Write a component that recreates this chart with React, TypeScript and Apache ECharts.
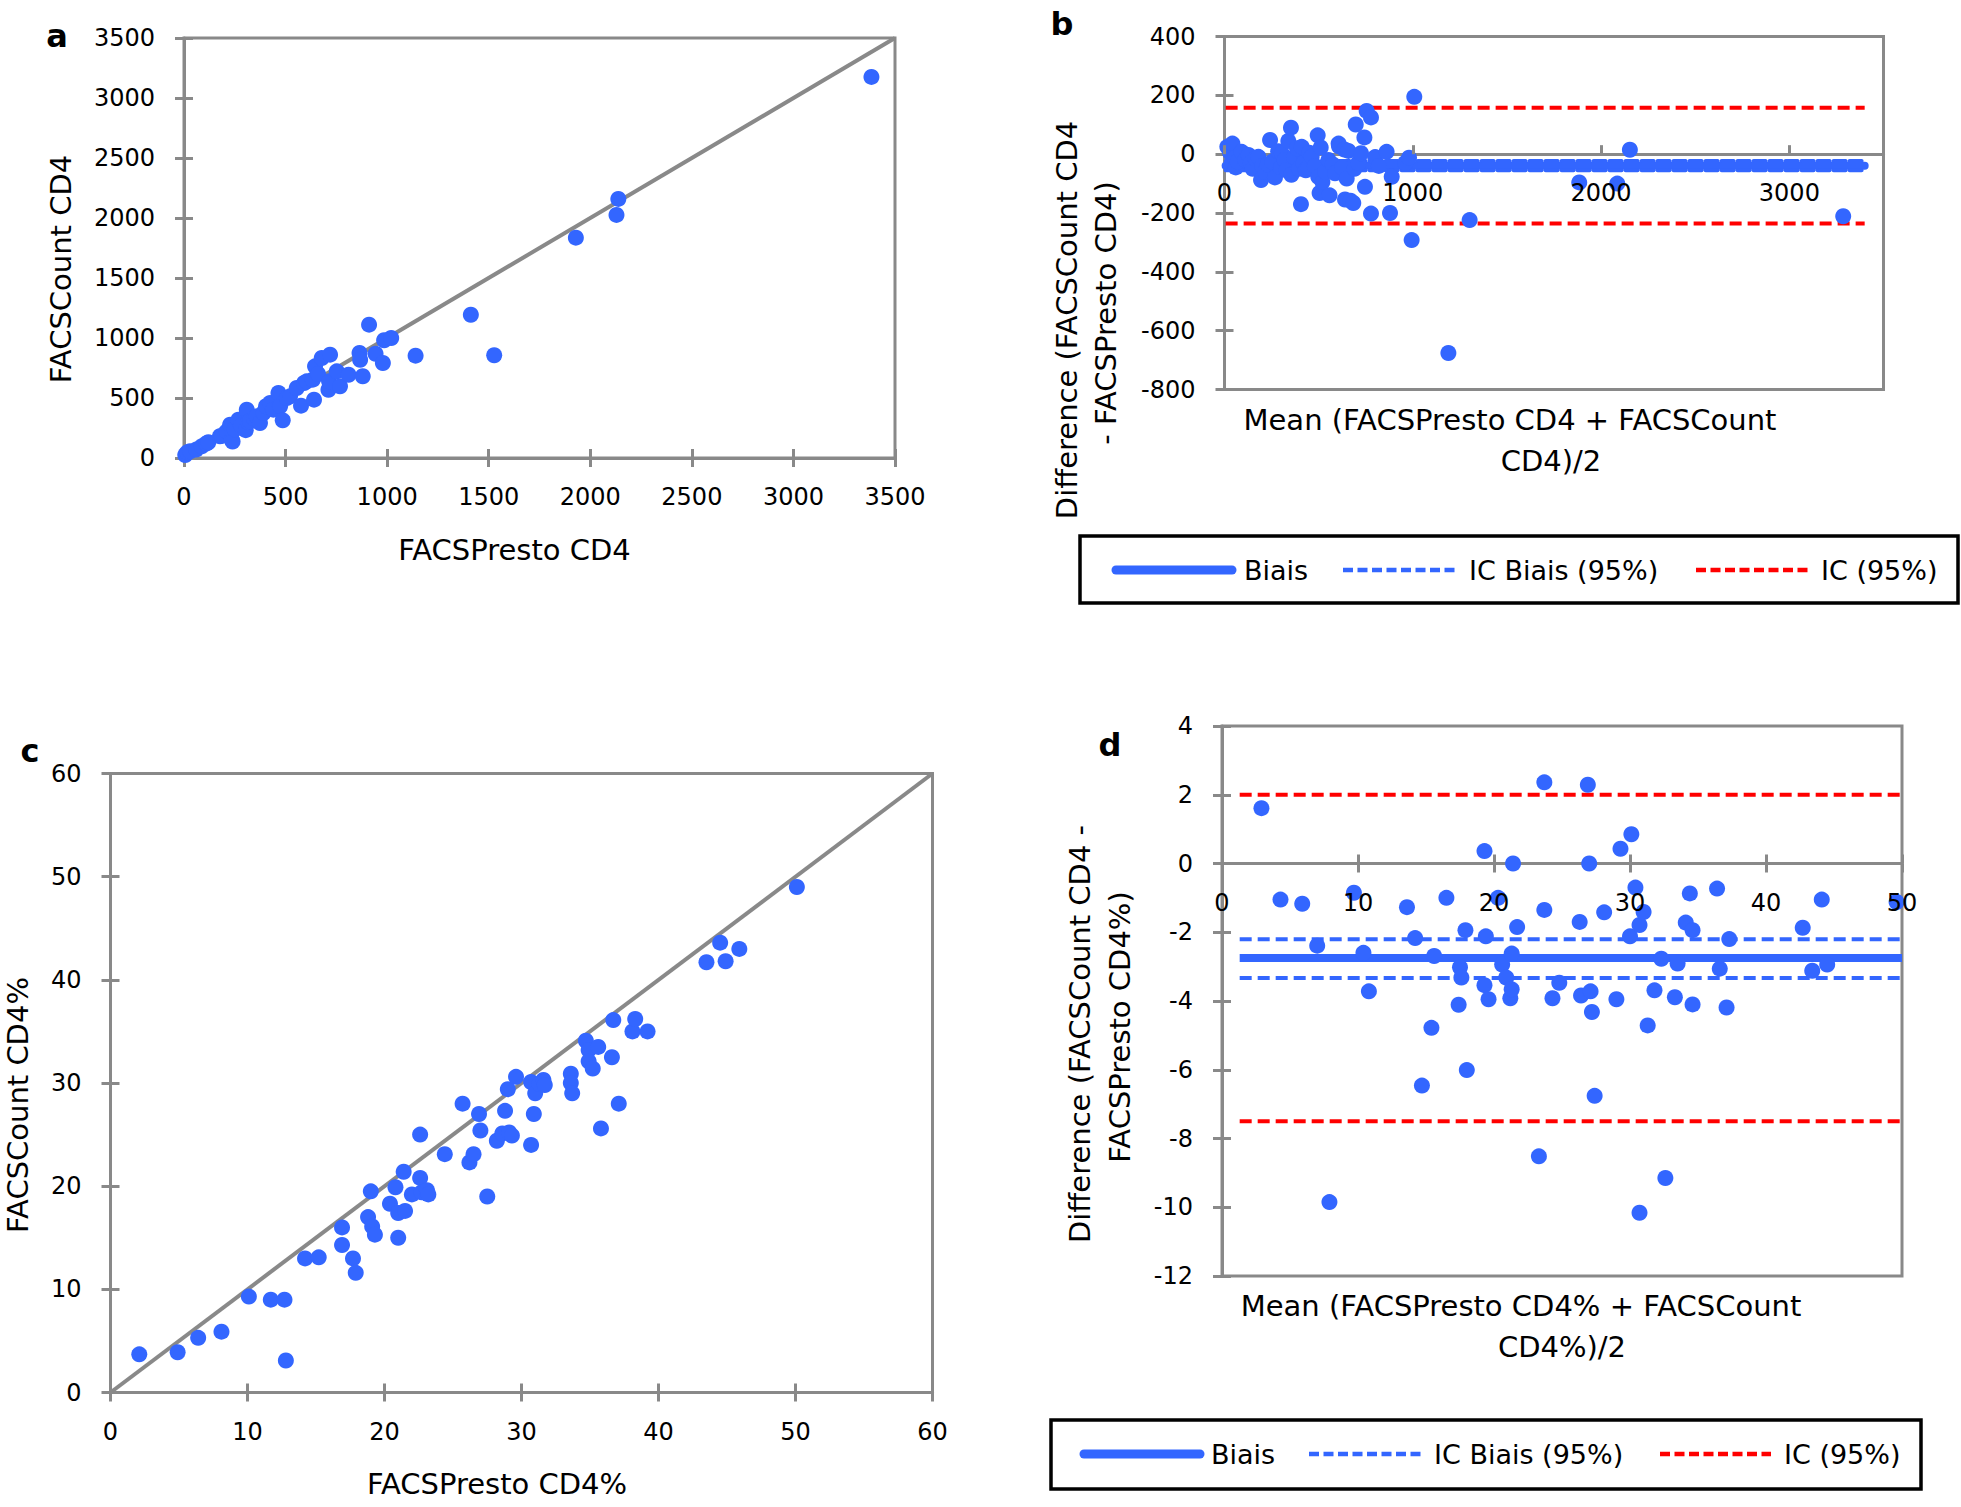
import React, { useEffect, useRef } from 'react';
import * as echarts from 'echarts';

const FONT = "'DejaVu Sans', sans-serif";
const BLUE = '#3366ff';
const RED = '#ff0000';
const GRAY = '#898989';

// ---- Panel a: FACSPresto CD4 (x) vs FACSCount CD4 (y)
const aPresto = [6, 16, 30, 60, 87, 110, 120, 177, 185, 210, 227, 235, 239, 250, 268, 280, 304, 309, 315, 325, 345, 358, 374, 391, 404, 424, 440, 465, 473, 486, 506, 522, 555, 576, 591, 604, 634, 640, 645, 660, 678, 711, 714, 719, 752, 768, 810, 864, 867, 880, 911, 943, 979, 985, 1020, 1140, 1412, 1527, 1929, 2129, 2138, 3384];
const aCount = [25, 47, 56, 70, 97, 121, 131, 181, 184, 222, 278, 153, 137, 240, 319, 270, 232, 403, 300, 306, 330, 347, 292, 375, 431, 458, 403, 542, 431, 314, 500, 514, 583, 436, 625, 639, 653, 486, 764, 700, 833, 569, 639, 861, 722, 597, 694, 875, 819, 681, 1111, 869, 792, 981, 1000, 853, 1194, 856, 1836, 2026, 2159, 3176];
const aIdentity = [0, 3500];

// ---- Panel b: Bland-Altman CD4 (mean, difference)
const bMean = [15, 30, 42, 55, 60, 70, 91, 110, 127, 140, 150, 165, 180, 194, 200, 215, 230, 242, 255, 268, 285, 300, 304, 320, 330, 339, 353, 355, 370, 385, 395, 406, 410, 420, 432, 445, 450, 463, 480, 495, 498, 505, 511, 520, 535, 552, 558, 575, 587, 606, 608, 625, 637, 640, 649, 658, 669, 684, 690, 697, 710, 725, 743, 746, 755, 778, 778, 800, 820, 861, 879, 888, 960, 980, 994, 1008, 1189, 1302, 1884, 2086, 2153, 3286];
const bDiff = [25, 5, 36, -12, -45, -25, 8, -20, -3, -30, -50, -15, -9, -88, -40, -60, -35, 48, -25, -79, 10, -45, 3, -20, -55, 45, 90, -70, -10, 20, -50, -170, 25, -30, -55, -45, 5, -9, -40, 64, -77, -132, 23, -95, -60, -20, -140, -35, -65, 36, 27, -45, 16, -154, -83, 11, -158, -166, -50, 101, -30, 3, 57, -111, 147, 125, -202, -10, -40, 8, -200, -77, -30, -12, -292, 195, -676, -224, -96, -100, 15, -211];
const bLineX = [6, 3400];
const bBias = -39;
const bBiasCI = [-23, -55];
const bLimits = [158, -236];

// ---- Panel c: FACSPresto CD4% (x) vs FACSCount CD4% (y)
const cPresto = [2.1, 4.9, 6.4, 8.1, 10.1, 11.7, 12.7, 12.8, 14.2, 15.2, 16.9, 16.9, 17.7, 17.9, 18.8, 19.0, 19.1, 19.3, 20.4, 20.8, 21.0, 21.0, 21.4, 21.5, 22.0, 22.6, 22.6, 22.7, 23.1, 23.2, 24.4, 25.7, 26.2, 26.5, 26.9, 27.0, 27.5, 28.2, 28.6, 28.8, 29.0, 29.1, 29.3, 29.6, 30.7, 30.7, 30.9, 31.0, 31.3, 31.6, 31.7, 33.6, 33.6, 33.7, 34.7, 34.9, 34.9, 35.2, 35.6, 35.8, 36.6, 36.7, 37.1, 38.1, 38.3, 39.2, 43.5, 44.5, 44.9, 45.9, 50.1];
const cCount = [3.7, 3.9, 5.3, 5.9, 9.3, 9.0, 9.0, 3.1, 13.0, 13.1, 16.0, 14.3, 13.0, 11.6, 17.0, 19.5, 16.1, 15.3, 18.3, 19.9, 17.4, 15.0, 21.4, 17.6, 19.2, 20.8, 25.0, 19.4, 19.6, 19.2, 23.1, 28.0, 22.3, 23.1, 27.0, 25.4, 19.0, 24.4, 25.1, 27.3, 29.4, 25.2, 24.9, 30.6, 24.0, 30.1, 27.0, 29.0, 29.9, 30.3, 29.8, 30.9, 30.0, 29.0, 34.1, 33.2, 32.1, 31.4, 33.5, 25.6, 32.5, 36.1, 28.0, 35.0, 36.2, 35.0, 41.7, 43.6, 41.8, 43.0, 49.0];
const cIdentity = [0, 60];

// ---- Panel d: Bland-Altman CD4% (mean, difference)
const dMean = [2.9, 4.3, 5.9, 7.0, 7.9, 9.7, 10.4, 10.8, 13.6, 14.2, 14.7, 15.4, 15.6, 16.5, 17.4, 17.5, 17.6, 17.9, 18.0, 19.3, 19.4, 19.3, 19.6, 20.3, 20.6, 20.9, 21.2, 21.3, 21.3, 21.4, 21.7, 23.3, 23.7, 23.7, 24.3, 24.8, 26.3, 26.4, 26.9, 27.0, 27.1, 27.2, 27.4, 28.1, 29.0, 29.3, 30.0, 30.1, 30.4, 30.7, 30.7, 31.0, 31.3, 31.8, 32.3, 32.6, 33.3, 33.5, 34.1, 34.4, 34.6, 34.6, 36.4, 36.6, 37.1, 37.3, 42.7, 43.4, 44.1, 44.5, 49.6];
const dDiff = [1.61, -1.05, -1.17, -2.39, -9.85, -0.85, -2.6, -3.72, -1.27, -2.17, -6.46, -4.78, -2.69, -1.0, -4.11, -3.02, -3.32, -1.94, -6.01, 0.36, -2.12, -3.54, -3.95, -1.0, -2.94, -3.32, -3.92, -3.66, -2.62, 0.0, -1.85, -8.52, 2.36, -1.35, -3.92, -3.47, -1.70, -3.84, 2.29, 0.0, -3.72, -4.32, -6.76, -1.42, -3.95, 0.43, -2.12, 0.85, -0.70, -10.16, -1.79, -1.41, -4.71, -3.69, -2.77, -9.15, -3.89, -2.91, -1.72, -0.87, -1.94, -4.10, -0.73, -3.06, -4.19, -2.20, -1.87, -3.12, -1.05, -2.94, -1.12];
const dLineX = [1.3, 50];
const dBias = -2.75;
const dBiasCI = [-2.2, -3.33];
const dLimits = [2.0, -7.5];

const LEGEND_NAMES = ['Biais', 'IC Biais (95%)', 'IC (95%)'];

type AxisCfg = {
  grid: number; min: number; max: number; interval: number; position: string;
  line: boolean; tick: 'in' | 'out' | 'none'; label: boolean; offset?: number; z?: number; margin?: number; showMax?: boolean;
};

function axis(c: AxisCfg) {
  return {
    type: 'value',
    gridIndex: c.grid,
    min: c.min,
    max: c.max,
    interval: c.interval,
    position: c.position,
    offset: c.offset ?? 0,
    z: c.z ?? 2,
    axisLine: {
      show: c.line,
      onZero: false,
      lineStyle: { color: GRAY, width: 3 },
    },
    axisTick: { show: c.tick !== 'none', inside: c.tick === 'in', length: 9, lineStyle: { color: GRAY, width: 3 } },
    axisLabel: {
      show: c.label, margin: c.margin ?? 29, color: '#000', fontSize: 24, fontFamily: FONT,
      showMaxLabel: c.showMax ?? true, showMinLabel: true,
      formatter: (v: number) => String(v),
    },
    splitLine: { show: false },
  };
}

const pairs = (xs: number[], ys: number[]) => xs.map((x, i) => [x, ys[i]]);
const hline = (xs: number[], y: number) => xs.map((x) => [x, y]);

function scatter(name: string, idx: number, data: number[][]) {
  return {
    name, type: 'scatter', xAxisIndex: idx, yAxisIndex: idx, data,
    symbol: 'circle', symbolSize: 16, itemStyle: { color: BLUE, opacity: 1 }, z: 3, silent: true,
  };
}

function lineSeries(name: string, idx: number, data: number[][], color: string, width: number, type: any, cap = 'butt') {
  return {
    name, type: 'line', xAxisIndex: idx, yAxisIndex: idx, data, symbol: 'none', z: 2, silent: true,
    lineStyle: { color, width, type, cap },
  };
}

function text(t: string, x: number, y: number, size: number, rotate = false, bold = false) {
  return {
    type: 'text', x, y, rotation: rotate ? Math.PI / 2 : 0, z: 20,
    style: {
      text: t, fill: '#000', font: `${bold ? 'bold ' : ''}${size}px ${FONT}`,
      textAlign: 'center', textVerticalAlign: 'middle',
    },
  };
}

function legend(box: number[], items: number[][], cy: number) {
  const [bx, by, bw, bh] = box;
  const els: any[] = [
    { type: 'rect', shape: { x: bx, y: by, width: bw, height: bh }, style: { fill: 'none', stroke: '#000', lineWidth: 3.5 }, z: 20 },
  ];
  const styles = [
    { stroke: BLUE, lineWidth: 9, lineCap: 'round' },
    { stroke: BLUE, lineWidth: 4.5, lineDash: [10, 4.5], lineCap: 'butt' },
    { stroke: RED, lineWidth: 4.5, lineDash: [10, 4.5], lineCap: 'butt' },
  ];
  items.forEach(([x1, x2, tx], i) => {
    els.push({ type: 'line', shape: { x1, y1: cy, x2, y2: cy }, style: styles[i], z: 20 });
    els.push({
      type: 'text', x: tx, y: cy, z: 20,
      style: { text: LEGEND_NAMES[i], fill: '#000', font: `27px ${FONT}`, textAlign: 'left', textVerticalAlign: 'middle' },
    });
  });
  return els;
}

function buildOption() {
  const grid = [
    { left: 184, top: 38, width: 711, height: 420 },
    { left: 1224.5, top: 36.5, width: 659, height: 353 },
    { left: 110.5, top: 773.5, width: 822, height: 619 },
    { left: 1222, top: 726, width: 680, height: 550 },
  ].map((g) => ({ ...g, show: true, borderColor: GRAY, borderWidth: 3, backgroundColor: 'transparent', containLabel: false, outerBoundsMode: 'none' }));

  // y ranges of the two difference panels; the x axis there sits at y = 0
  const yB = [-800, 400];
  const yD = [-12, 4];
  const zeroOffset = (h: number, r: number[]) => -h * (0 - r[0]) / (r[1] - r[0]);
  const offB = zeroOffset(grid[1].height, yB);
  const offD = zeroOffset(grid[3].height, yD);

  const xAxis = [
    axis({ grid: 0, min: 0, max: 3500, interval: 500, position: 'bottom', line: true, tick: 'out', label: true, margin: 27 }),
    axis({ grid: 0, min: 0, max: 3500, interval: 500, position: 'bottom', line: false, tick: 'in', label: false }),
    axis({ grid: 1, min: 0, max: 3500, interval: 1000, position: 'bottom', line: true, tick: 'none', label: false, offset: offB }),
    axis({ grid: 1, min: 0, max: 3500, interval: 1000, position: 'bottom', line: false, tick: 'in', label: true, offset: offB, z: 10, margin: 27, showMax: false }),
    axis({ grid: 2, min: 0, max: 60, interval: 10, position: 'bottom', line: true, tick: 'out', label: true, margin: 27 }),
    axis({ grid: 2, min: 0, max: 60, interval: 10, position: 'bottom', line: false, tick: 'in', label: false }),
    axis({ grid: 3, min: 0, max: 50, interval: 10, position: 'bottom', line: true, tick: 'out', label: false, offset: offD }),
    axis({ grid: 3, min: 0, max: 50, interval: 10, position: 'bottom', line: false, tick: 'in', label: true, offset: offD, z: 10, margin: 27 }),
  ];
  const yAxis = [
    axis({ grid: 0, min: 0, max: 3500, interval: 500, position: 'left', line: true, tick: 'out', label: true }),
    axis({ grid: 0, min: 0, max: 3500, interval: 500, position: 'left', line: false, tick: 'in', label: false }),
    axis({ grid: 1, min: yB[0], max: yB[1], interval: 200, position: 'left', line: true, tick: 'out', label: true }),
    axis({ grid: 1, min: yB[0], max: yB[1], interval: 200, position: 'left', line: false, tick: 'in', label: false }),
    axis({ grid: 2, min: 0, max: 60, interval: 10, position: 'left', line: true, tick: 'out', label: true }),
    axis({ grid: 2, min: 0, max: 60, interval: 10, position: 'left', line: false, tick: 'in', label: false }),
    axis({ grid: 3, min: yD[0], max: yD[1], interval: 2, position: 'left', line: true, tick: 'out', label: true }),
    axis({ grid: 3, min: yD[0], max: yD[1], interval: 2, position: 'left', line: false, tick: 'in', label: false }),
  ];
  const series: any[] = [
    scatter('a', 0, pairs(aPresto, aCount)),
    lineSeries('identity a', 0, pairs(aIdentity, aIdentity), GRAY, 4, 'solid'),

    scatter('b', 2, pairs(bMean, bDiff)),
    lineSeries('Biais', 2, hline(bLineX, bBias), BLUE, 8, 'solid', 'round'),
    lineSeries('IC Biais (95%)', 2, hline(bLineX, bBiasCI[0]), BLUE, 4, [12, 4], 'round'),
    lineSeries('IC Biais (95%)', 2, hline(bLineX, bBiasCI[1]), BLUE, 4, [12, 4], 'round'),
    lineSeries('IC (95%)', 2, hline(bLineX, bLimits[0]), RED, 4, [12, 6]),
    lineSeries('IC (95%)', 2, hline(bLineX, bLimits[1]), RED, 4, [12, 6]),

    scatter('c', 4, pairs(cPresto, cCount)),
    lineSeries('identity c', 4, pairs(cIdentity, cIdentity), GRAY, 4, 'solid'),

    scatter('d', 6, pairs(dMean, dDiff)),
    lineSeries('Biais', 6, hline(dLineX, dBias), BLUE, 8, 'solid'),
    lineSeries('IC Biais (95%)', 6, hline(dLineX, dBiasCI[0]), BLUE, 4, [12, 6]),
    lineSeries('IC Biais (95%)', 6, hline(dLineX, dBiasCI[1]), BLUE, 4, [12, 6]),
    lineSeries('IC (95%)', 6, hline(dLineX, dLimits[0]), RED, 4, [12, 6]),
    lineSeries('IC (95%)', 6, hline(dLineX, dLimits[1]), RED, 4, [12, 6]),
  ];
  const graphic: any[] = [
    text('a', 57, 36, 32, false, true),
    text('b', 1062, 24, 32, false, true),
    text('c', 30, 751, 32, false, true),
    text('d', 1110, 745, 32, false, true),
    text('FACSPresto CD4', 514.5, 550, 29),
    text('FACSCount CD4', 61, 269, 29, true),
    text('Difference (FACSCount CD4', 1067, 320, 29, true),
    text('- FACSPresto CD4)', 1105.5, 313, 29, true),
    text('Mean (FACSPresto CD4 + FACSCount', 1510, 420, 29),
    text('CD4)/2', 1551, 461, 29),
    text('FACSPresto CD4%', 497, 1484, 29),
    text('FACSCount CD4%', 18, 1105, 29, true),
    text('Difference (FACSCount CD4 -', 1080, 1034, 29, true),
    text('FACSPresto CD4%)', 1120, 1027, 29, true),
    text('Mean (FACSPresto CD4% + FACSCount', 1521, 1306, 29),
    text('CD4%)/2', 1562, 1347, 29),
    ...legend([1080, 536, 878, 67], [[1116, 1232, 1244], [1343, 1457, 1469], [1696, 1810, 1821]], 570),
    ...legend([1051, 1420, 870, 69], [[1084, 1200, 1211], [1309, 1422, 1434], [1660, 1771, 1784]], 1454),
  ];
  return {
    animation: false,
    backgroundColor: '#ffffff',
    textStyle: { fontFamily: FONT },
    grid, xAxis, yAxis, series, graphic,
  };
}

export default function App() {
  const ref = useRef<HTMLDivElement>(null);
  useEffect(() => {
    const chart = echarts.init(ref.current!, null, { renderer: 'svg' });
    chart.setOption(buildOption() as any);
    return () => chart.dispose();
  }, []);
  return (
    <div
      ref={ref}
      style={{ position: 'fixed', left: 0, top: 0, width: 1961, height: 1507, background: '#fff' }}
    />
  );
}
